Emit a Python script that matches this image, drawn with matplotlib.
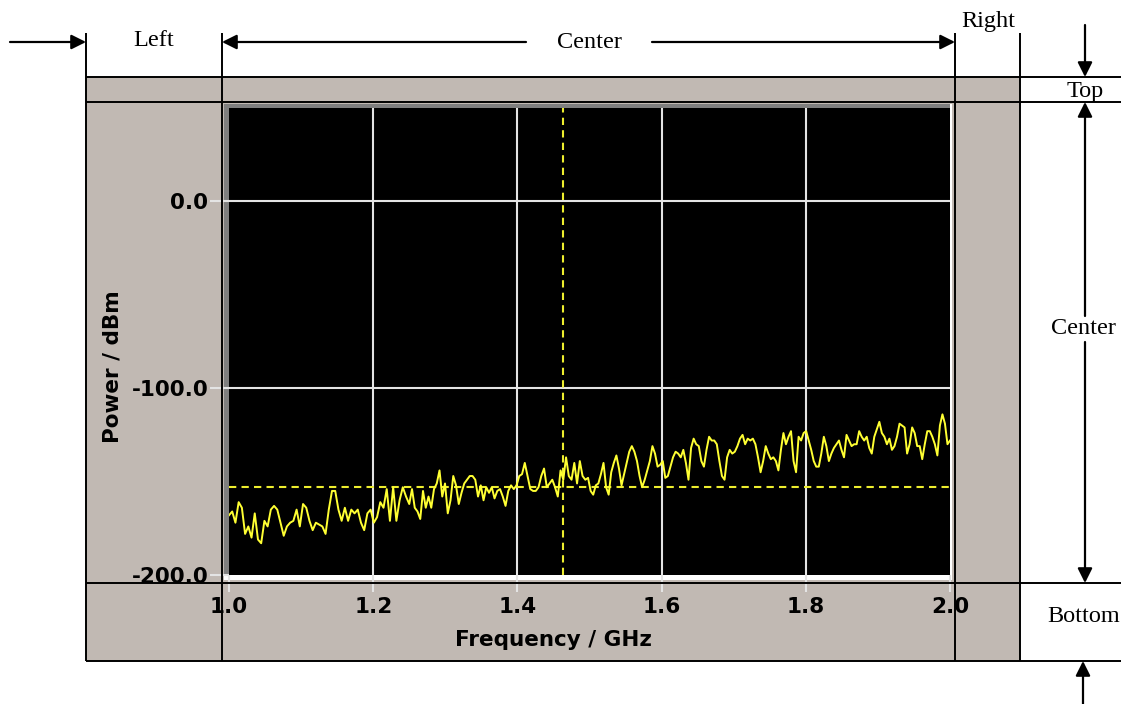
import numpy as np
import matplotlib
matplotlib.use("Agg")
import matplotlib.pyplot as plt
from matplotlib.patches import Rectangle

# ---------------- data ----------------
freq_ticks = [1.0, 1.2, 1.4, 1.6, 1.8, 2.0]
freq_tick_labels = ["1.0", "1.2", "1.4", "1.6", "1.8", "2.0"]
power_ticks = [0.0, -100.0, -200.0]
power_tick_labels = ["0.0", "-100.0", "-200.0"]
freq_limits = (1.0, 2.0)
power_limits = (-200.0, 50.0)
marker_freq = 1.463          # vertical dashed marker (GHz)
threshold_power = -153.0     # horizontal dashed level (dBm)

# trace read in four consecutive pieces (GHz edges of the pieces)
segment_edges = [1.0, 1.25, 1.498, 1.748, 2.0]
trace_seg1 = [-168, -166, -172, -161, -164, -178, -174, -180, -167, -181, -183, -171, -174, -165,
              -163, -165, -172, -179, -174, -172, -171, -165, -174, -162, -164, -171, -176, -172,
              -173, -174, -178, -165, -155, -155, -165, -171, -164, -171, -165, -167, -165, -172,
              -176, -167, -165, -172, -169, -161, -164, -154, -171, -153, -171, -160, -153, -158]
trace_seg2 = [-162, -154, -164, -166, -170, -155, -164, -158, -164, -154, -151, -144, -158, -151,
              -167, -160, -147, -152, -162, -156, -151, -149, -147, -147, -149, -158, -152, -160,
              -153, -156, -153, -159, -155, -154, -158, -163, -155, -152, -154, -152, -147, -146,
              -140, -147, -154, -155, -155, -153, -147, -143, -153, -151, -149, -153, -158, -144,
              -149, -137, -147, -149, -140, -151, -139, -147, -149]
trace_seg3 = [-148, -155, -157, -152, -151, -146, -140, -153, -157, -145, -140, -136, -143, -152,
              -146, -140, -134, -131, -134, -139, -147, -153, -149, -144, -139, -131, -135, -142,
              -141, -139, -148, -147, -142, -137, -134, -135, -137, -133, -140, -149, -132, -127,
              -130, -131, -139, -142, -133, -126, -128, -128, -130, -139, -147, -149, -137, -133,
              -135, -134, -131, -127, -125, -130, -127, -128, -127, -130, -137, -145, -139, -131]
trace_seg4 = [-135, -138, -137, -139, -144, -133, -124, -130, -126, -123, -139, -145, -126, -128,
              -124, -123, -128, -133, -139, -142, -142, -135, -126, -131, -139, -135, -132, -130,
              -128, -133, -137, -125, -128, -131, -130, -130, -123, -126, -128, -126, -132, -135,
              -126, -122, -118, -124, -126, -130, -127, -133, -131, -126, -119, -120, -121, -135,
              -130, -121, -124, -131, -131, -138, -130, -123, -123, -126, -130, -136, -120, -114,
              -119, -130, -128]

x_label = "Frequency / GHz"
y_label = "Power / dBm"
region_labels = ["Left", "Center", "Right", "Top", "Center", "Bottom"]

# ---------------- layout (pixels) ----------------
W, H = 1125, 704
GRAY = "#C1B9B3"
YELLOW = "#FFFF33"
DASH_YELLOW = "#EDED2E"
GRID = "#E4E4E4"
ANN_FONT = dict(family="Liberation Serif", fontsize=17.5, color="black")
TICK_FONT = dict(family="DejaVu Sans", fontweight="bold", fontsize=15.5)


def fr(x0, y0, x1, y1):
    return [x0 / W, 1 - y1 / H, (x1 - x0) / W, (y1 - y0) / H]


fig = plt.figure(figsize=(W / 100, H / 100), dpi=100)
fig.patch.set_facecolor("white")

# background layer
bg = fig.add_axes([0, 0, 1, 1], zorder=0)
bg.set_xlim(0, W)
bg.set_ylim(H, 0)
bg.axis("off")
bg.add_patch(Rectangle((86, 77), 1020 - 86, 661 - 77, facecolor=GRAY, edgecolor="none"))
bg.add_patch(Rectangle((224, 104), 952 - 224, 580 - 104, facecolor="white", edgecolor="none"))
bg.add_patch(Rectangle((224, 104), 950 - 224, 575 - 104, facecolor="#7F7F7F", edgecolor="none"))

# plot layer
ax = fig.add_axes(fr(229, 108, 950, 575), zorder=1)
ax.set_facecolor("black")
for s in ax.spines.values():
    s.set_visible(False)
ax.set_xlim(*freq_limits)
ax.set_ylim(*power_limits)
ax.set_xticks(freq_ticks)
ax.set_xticklabels(freq_tick_labels, **TICK_FONT)
ax.set_yticks(power_ticks)
ax.set_yticklabels(power_tick_labels, **TICK_FONT)
ax.tick_params(axis="y", direction="out", length=13.5, width=1.5, color=GRID, pad=1.5)
ax.tick_params(axis="x", direction="out", length=12, width=1.5, color=GRID, pad=4)

for f in freq_ticks[1:-1]:
    ax.axvline(f, color=GRID, lw=1.5, zorder=1)
for p in power_ticks[:-1]:
    ax.axhline(p, color=GRID, lw=1.5, zorder=1)

freqs = []
segs = [trace_seg1, trace_seg2, trace_seg3, trace_seg4]
for i, seg in enumerate(segs):
    last = i == len(segs) - 1
    freqs.append(np.linspace(segment_edges[i], segment_edges[i + 1], len(seg), endpoint=last))
freqs = np.concatenate(freqs)
power = np.concatenate([np.asarray(s, float) for s in segs])

ax.plot(freqs, power, color=YELLOW, lw=1.4, zorder=3)
ax.axhline(threshold_power, color=DASH_YELLOW, lw=1.5, dashes=(3.5, 2.5), zorder=2)
ax.axvline(marker_freq, color=DASH_YELLOW, lw=1.5, dashes=(3.5, 2.5), zorder=2)

fig.text(553 / W, 1 - 640 / H, x_label, ha="center", va="center", **TICK_FONT)
fig.text(113 / W, 1 - 367 / H, y_label, ha="center", va="center", rotation=90, **TICK_FONT)

# overlay annotation layer
ov = fig.add_axes([0, 0, 1, 1], zorder=5)
ov.set_xlim(0, W)
ov.set_ylim(H, 0)
ov.axis("off")
ov.patch.set_alpha(0)

LW = 1.4
for yy in (77, 102, 583, 661):
    ov.plot([86, 1121], [yy, yy], color="black", lw=LW, solid_capstyle="butt")
for xx in (86, 222, 955, 1020):
    ov.plot([xx, xx], [33, 661], color="black", lw=LW, solid_capstyle="butt")


def arrow(x0, y0, x1, y1):
    ov.annotate("", xy=(x1, y1), xytext=(x0, y0),
                arrowprops=dict(arrowstyle="-|>", color="black", lw=1.6,
                                mutation_scale=22, shrinkA=0, shrinkB=0))


arrow(10, 42, 86, 42)
arrow(526, 42, 222, 42)
arrow(652, 42, 955, 42)
arrow(1085, 25, 1085, 77)
arrow(1085, 316, 1085, 102)
arrow(1085, 342, 1085, 583)
arrow(1083, 704, 1083, 661)

ov.text(154, 40, region_labels[0], ha="center", va="center", **ANN_FONT)
ov.text(589, 43, region_labels[1], ha="center", va="center", **ANN_FONT)
ov.text(988, 22, region_labels[2], ha="center", va="center", **ANN_FONT)
ov.text(1085, 91, region_labels[3], ha="center", va="center", **ANN_FONT)
ov.text(1083, 329, region_labels[4], ha="center", va="center", **ANN_FONT)
ov.text(1084, 617, region_labels[5], ha="center", va="center", **ANN_FONT)

fig.savefig("out.png", dpi=100, facecolor="white")
